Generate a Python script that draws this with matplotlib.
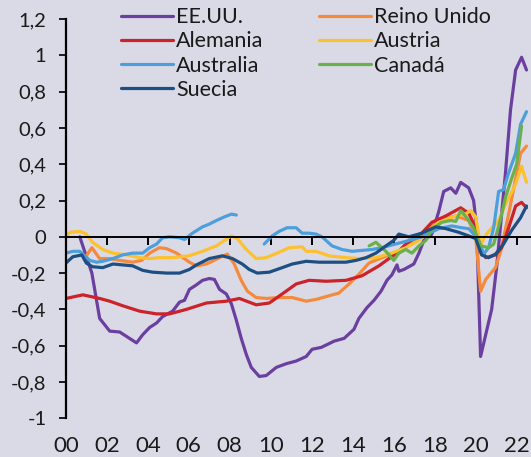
import numpy as np
import matplotlib
matplotlib.use("Agg")
from matplotlib import pyplot as plt

plt.rcParams['font.family'] = ['Lato', 'DejaVu Sans']

# EE.UU.
eeuu_t = [2000.68, 2001.27, 2001.65, 2002.14, 2002.63, 2002.97, 2003.45, 2003.75, 2004.09, 2004.43,
          2004.72, 2005.21, 2005.55, 2005.79, 2006.03, 2006.37, 2006.67, 2007.0, 2007.25, 2007.5,
          2007.83, 2008.08, 2008.32, 2008.56, 2008.81, 2009.05, 2009.44, 2009.78, 2010.27, 2010.75,
          2011.24, 2011.73, 2012.02, 2012.46, 2013.1, 2013.58, 2014.06, 2014.3, 2014.7, 2015.04,
          2015.38, 2015.67, 2015.91, 2016.16, 2016.25, 2016.5, 2016.98, 2017.23, 2017.47, 2017.86,
          2018.2, 2018.44, 2018.78, 2019.03, 2019.27, 2019.66, 2019.9, 2020.05, 2020.24, 2020.78,
          2021.02, 2021.46, 2021.7, 2021.95, 2022.24, 2022.48]
eeuu_v = [0.0, -0.2, -0.45, -0.52, -0.525, -0.55, -0.585, -0.54, -0.5, -0.475,
          -0.44, -0.41, -0.36, -0.35, -0.29, -0.265, -0.24, -0.23, -0.235, -0.29,
          -0.315, -0.37, -0.46, -0.56, -0.65, -0.72, -0.77, -0.765, -0.72, -0.7,
          -0.685, -0.66, -0.62, -0.61, -0.575, -0.56, -0.51, -0.45, -0.39, -0.35,
          -0.3, -0.24, -0.21, -0.155, -0.19, -0.18, -0.15, -0.09, -0.02, 0.015,
          0.14, 0.25, 0.27, 0.24, 0.3, 0.27, 0.2, 0.05, -0.66, -0.4,
          -0.17, 0.36, 0.7, 0.92, 0.99, 0.92]

# Reino Unido
ru_t = [2001.0, 2001.27, 2001.65, 2002.14, 2002.63, 2003.26, 2003.7, 2004.09, 2004.57, 2004.91,
        2005.4, 2006.03, 2006.37, 2006.86, 2007.5, 2007.88, 2008.22, 2008.56, 2008.86, 2009.29,
        2009.78, 2010.41, 2011.05, 2011.73, 2012.21, 2012.85, 2013.33, 2013.82, 2014.31, 2014.79,
        2015.43, 2015.91, 2016.59, 2017.23, 2017.86, 2018.54, 2019.03, 2019.66, 2020.0, 2020.24,
        2020.49, 2020.97, 2021.22, 2021.6, 2021.95, 2022.19, 2022.48]
ru_v = [-0.105, -0.06, -0.12, -0.12, -0.13, -0.14, -0.13, -0.09, -0.06, -0.065,
        -0.09, -0.14, -0.16, -0.15, -0.115, -0.095, -0.15, -0.24, -0.3, -0.335,
        -0.34, -0.335, -0.335, -0.355, -0.345, -0.325, -0.31, -0.26, -0.205, -0.145,
        -0.115, -0.095, -0.06, -0.005, 0.06, 0.1, 0.115, 0.09, 0.0, -0.3,
        -0.235, -0.17, -0.08, 0.12, 0.32, 0.46, 0.5]

# Alemania
al_t = [2000.0, 2000.83, 2001.65, 2002.14, 2002.77, 2003.6, 2004.43, 2005.06, 2005.89, 2006.86,
        2007.83, 2008.47, 2009.29, 2009.93, 2010.56, 2011.24, 2011.87, 2012.7, 2013.67, 2014.45,
        2015.28, 2015.77, 2016.16, 2016.59, 2017.37, 2017.86, 2018.54, 2019.27, 2019.66, 2020.0,
        2020.24, 2020.49, 2020.97, 2021.27, 2021.61, 2021.95, 2022.24, 2022.48]
al_v = [-0.34, -0.32, -0.34, -0.355, -0.38, -0.41, -0.425, -0.425, -0.4, -0.365,
        -0.355, -0.34, -0.375, -0.365, -0.315, -0.26, -0.24, -0.245, -0.24, -0.215,
        -0.16, -0.12, -0.09, -0.04, 0.02, 0.08, 0.115, 0.16, 0.13, 0.05,
        -0.06, -0.115, -0.1, -0.06, 0.05, 0.17, 0.19, 0.16]

# Austria
au_t = [2000.0, 2000.2, 2000.7, 2001.0, 2001.3, 2001.8, 2002.3, 2003.0, 2003.6, 2004.1,
        2004.6, 2005.2, 2006.0, 2006.67, 2007.35, 2007.74, 2008.08, 2008.37, 2008.81, 2009.29,
        2009.78, 2010.41, 2010.9, 2011.53, 2011.73, 2012.21, 2012.85, 2013.67, 2014.3, 2015.13,
        2015.9, 2016.59, 2017.23, 2018.2, 2019.03, 2019.5, 2019.76, 2020.0, 2020.24, 2020.39,
        2020.63, 2021.12, 2021.46, 2021.95, 2022.24, 2022.48]
au_v = [0.0, 0.025, 0.03, 0.015, -0.03, -0.07, -0.09, -0.1, -0.115, -0.12,
        -0.115, -0.115, -0.105, -0.08, -0.05, -0.02, 0.005, -0.01, -0.07, -0.12,
        -0.115, -0.085, -0.06, -0.055, -0.08, -0.08, -0.105, -0.115, -0.12, -0.115,
        -0.09, -0.06, -0.02, 0.08, 0.115, 0.125, 0.145, 0.11, -0.05, -0.01,
        0.03, 0.09, 0.18, 0.29, 0.39, 0.3]

# Australia (hueco 2008-2009)
aus_t = [2000.0, 2000.34, 2000.68, 2000.92, 2001.17, 2001.5, 2001.8, 2002.3, 2002.77, 2003.26,
         2003.75, 2004.09, 2004.43, 2004.72, 2005.06, 2005.55, 2005.79, 2006.18, 2006.67, 2007.0,
         2007.35, 2007.74, 2008.08, 2008.32, 2009.0, 2009.68, 2010.07, 2010.41, 2010.8, 2011.24,
         2011.53, 2011.87, 2012.21, 2012.5, 2012.99, 2013.48, 2013.97, 2014.45, 2014.94, 2015.43,
         2015.91, 2016.59, 2017.37, 2018.2, 2018.83, 2019.32, 2019.66, 2019.9, 2020.15, 2020.39,
         2020.63, 2020.88, 2021.12, 2021.36, 2021.6, 2021.95, 2022.19, 2022.48]
aus_v = [-0.09, -0.08, -0.08, -0.105, -0.13, -0.14, -0.135, -0.12, -0.1, -0.09,
         -0.09, -0.06, -0.04, -0.005, 0.0, -0.005, -0.015, 0.02, 0.055, 0.07,
         0.09, 0.11, 0.125, 0.12, np.nan, -0.04, 0.005, 0.03, 0.05, 0.05,
         0.02, 0.02, 0.015, 0.0, -0.05, -0.07, -0.08, -0.075, -0.07, -0.06,
         -0.045, -0.025, 0.0, 0.045, 0.06, 0.05, 0.045, 0.015, -0.02, -0.095,
         -0.06, 0.05, 0.25, 0.26, 0.35, 0.46, 0.62, 0.69]

# Canadá
ca_t = [2014.8, 2015.13, 2015.62, 2016.0, 2016.25, 2016.59, 2016.89, 2017.23, 2017.57, 2017.86,
        2018.35, 2018.78, 2019.03, 2019.27, 2019.56, 2019.9, 2020.24, 2020.63, 2020.88, 2021.22,
        2021.46, 2021.75, 2022.0, 2022.24]
ca_v = [-0.05, -0.03, -0.08, -0.13, -0.09, -0.07, -0.09, -0.05, -0.02, 0.04,
        0.08, 0.09, 0.085, 0.145, 0.105, 0.05, -0.05, -0.06, -0.04, 0.1,
        0.22, 0.32, 0.4, 0.61]

# Suecia
se_t = [2000.0, 2000.34, 2000.78, 2001.0, 2001.3, 2001.8, 2002.3, 2002.77, 2003.26, 2003.75,
        2004.23, 2004.91, 2005.55, 2006.03, 2006.37, 2007.0, 2007.64, 2008.13, 2008.61, 2008.95,
        2009.34, 2009.93, 2010.56, 2011.05, 2011.73, 2012.36, 2012.99, 2013.67, 2014.16, 2014.65,
        2015.13, 2015.62, 2016.0, 2016.25, 2016.74, 2017.37, 2018.05, 2018.54, 2019.17, 2019.66,
        2020.0, 2020.29, 2020.63, 2020.97, 2021.36, 2021.75, 2022.19, 2022.48]
se_v = [-0.145, -0.11, -0.1, -0.145, -0.165, -0.17, -0.15, -0.155, -0.16, -0.185,
        -0.195, -0.2, -0.2, -0.18, -0.155, -0.12, -0.105, -0.12, -0.15, -0.18,
        -0.2, -0.195, -0.17, -0.15, -0.135, -0.14, -0.14, -0.14, -0.13, -0.115,
        -0.09, -0.05, -0.02, 0.015, 0.0, 0.02, 0.055, 0.045, 0.025, 0.005,
        -0.01, -0.1, -0.115, -0.095, -0.04, 0.035, 0.105, 0.17]

series = [
    ("EE.UU.", eeuu_t, eeuu_v, "#6b3fa0"),
    ("Reino Unido", ru_t, ru_v, "#f58a3c"),
    ("Alemania", al_t, al_v, "#cc2229"),
    ("Austria", au_t, au_v, "#fdc02f"),
    ("Australia", aus_t, aus_v, "#4d9fdc"),
    ("Canadá", ca_t, ca_v, "#6ab04c"),
    ("Suecia", se_t, se_v, "#1d4f83"),
]

ytick_vals = [1.2, 1, 0.8, 0.6, 0.4, 0.2, 0, -0.2, -0.4, -0.6, -0.8, -1]
ytick_labels = ["1,2", "1", "0,8", "0,6", "0,4", "0,2", "0", "-0,2", "-0,4", "-0,6", "-0,8", "-1"]
xtick_vals = list(range(2000, 2023, 2))
xtick_labels = ["00", "02", "04", "06", "08", "10", "12", "14", "16", "18", "20", "22"]

bg = "#dadae6"
fig = plt.figure(figsize=(5.31, 4.57), dpi=100, facecolor=bg)
ax = fig.add_axes([0.124, 0.085, 0.876, 0.873], facecolor=bg)

lines = {}
for name, t, v, c in series:
    ln, = ax.plot(t, v, color=c, lw=2.3, label=name, solid_capstyle='round')
    lines[name] = ln

ax.set_xlim(2000, 2022.7)
ax.set_ylim(-1, 1.2)

ax.spines['top'].set_visible(False)
ax.spines['right'].set_visible(False)
ax.spines['bottom'].set_position(('data', 0))
ax.spines['left'].set_linewidth(1.6)
ax.spines['bottom'].set_linewidth(1.4)

ax.set_yticks(ytick_vals)
ax.set_yticklabels(ytick_labels)
ax.tick_params(axis='y', direction='out', length=5, width=1.4, pad=9, labelsize=14.5, colors='#1a1a1a')
ax.set_xticks(xtick_vals)
ax.set_xticklabels([])
ax.tick_params(axis='x', direction='out', length=6, width=1.4)
for x, lab in zip(xtick_vals, xtick_labels):
    ax.text(x, -0.045, lab, transform=ax.get_xaxis_transform(), ha='center', va='top',
            fontsize=16, color='#1a1a1a')

order = ["EE.UU.", "Alemania", "Australia", "Suecia", "Reino Unido", "Austria", "Canadá"]
leg = ax.legend([lines[n] for n in order], order, ncol=2, frameon=False,
                loc='upper left', bbox_to_anchor=(0.1, 1.052), fontsize=15.5,
                handlelength=2.4, handletextpad=0.15, labelspacing=0.2, columnspacing=2.6,
                borderaxespad=0)
for t in leg.get_texts():
    t.set_color('#1a1a1a')

fig.savefig("out.png", dpi=100, facecolor=bg)
